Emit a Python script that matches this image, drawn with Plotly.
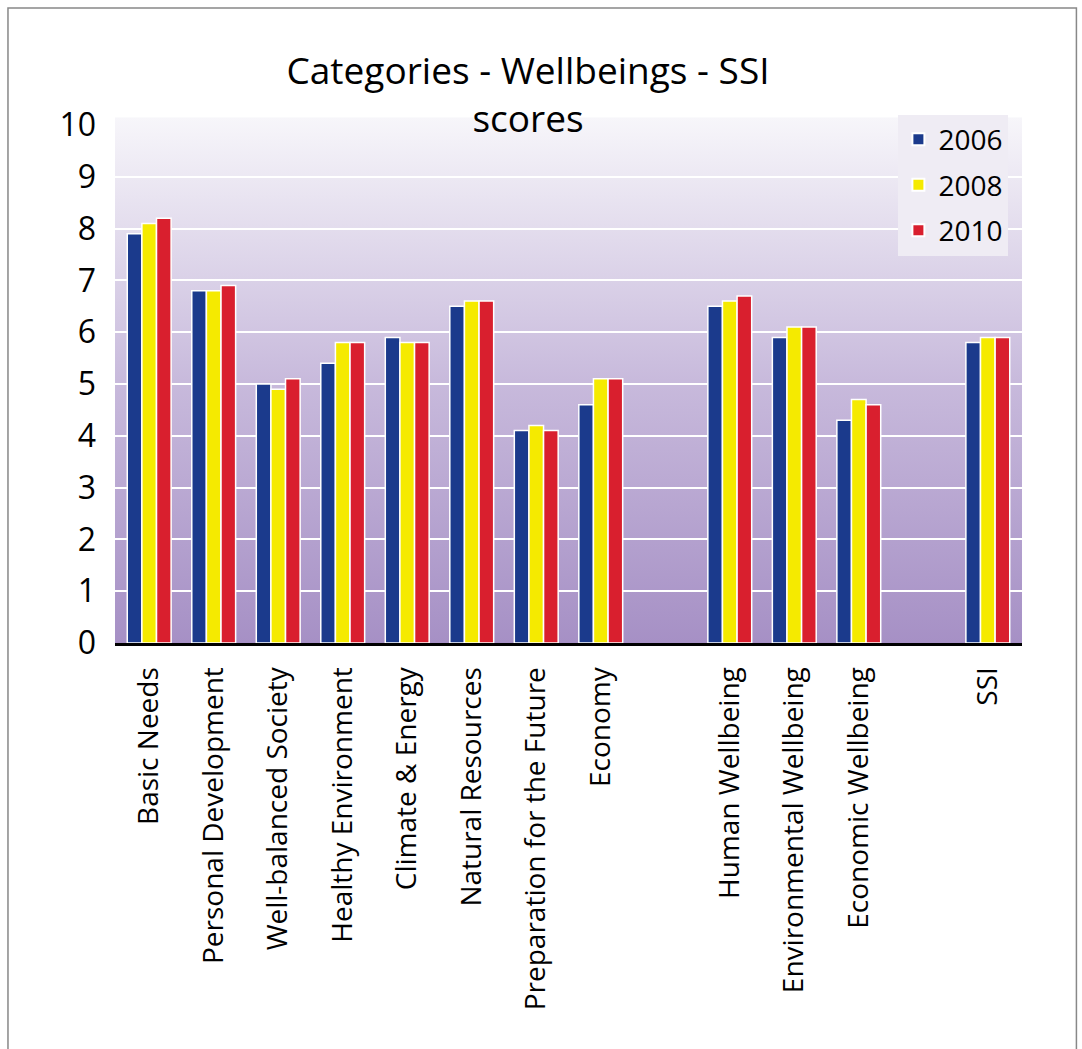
import base64
import plotly.graph_objects as go

categories = ["Basic Needs", "Personal Development", "Well-balanced Society",
              "Healthy Environment", "Climate & Energy", "Natural Resources",
              "Preparation for the Future", "Economy",
              "Human Wellbeing", "Environmental Wellbeing", "Economic Wellbeing",
              "SSI"]
positions = [0, 1, 2, 3, 4, 5, 6, 7, 9, 10, 11, 13]
years = ["2006", "2008", "2010"]
v2006 = [7.9, 6.8, 5.0, 5.4, 5.9, 6.5, 4.1, 4.6, 6.5, 5.9, 4.3, 5.8]
v2008 = [8.1, 6.8, 4.9, 5.8, 5.8, 6.6, 4.2, 5.1, 6.6, 6.1, 4.7, 5.9]
v2010 = [8.2, 6.9, 5.1, 5.8, 5.8, 6.6, 4.1, 5.1, 6.7, 6.1, 4.6, 5.9]
colors = ["#1b3a8c", "#f5ea00", "#d91f2e"]
y_ticks = list(range(0, 11))

fig = go.Figure()
for name, vals, col in zip(years, [v2006, v2008, v2010], colors):
    fig.add_trace(go.Bar(x=positions, y=vals, name=name, legendgroup=name,
                         marker=dict(color=col, line=dict(color="white", width=1.5))))

svg = ('<svg xmlns="http://www.w3.org/2000/svg" width="100" height="100" preserveAspectRatio="none">'
       '<defs><linearGradient id="g" x1="0" y1="0" x2="0" y2="1">'
       '<stop offset="0" stop-color="#f7f6fa"/><stop offset="0.5" stop-color="#c8badc"/>'
       '<stop offset="1" stop-color="#a690c5"/></linearGradient></defs>'
       '<rect width="100" height="100" fill="url(#g)"/></svg>')
src = "data:image/svg+xml;base64," + base64.b64encode(svg.encode()).decode()

fig.update_layout(
    width=1082, height=1049,
    margin=dict(l=115, r=60, t=125, b=406),
    paper_bgcolor="white",
    plot_bgcolor="rgba(0,0,0,0)",
    barmode="group", bargap=0.32, bargroupgap=0.0,
    font=dict(family="Open Sans, Lato, sans-serif", color="black"),
    title=dict(text="Categories - Wellbeings - SSI<br>scores", x=0.488, xanchor="center",
               y=0.92, yanchor="top", font=dict(size=37, color="black")),
    legend=dict(x=0.985, xanchor="right", y=1.02, yanchor="top",
                bgcolor="#efecf4", font=dict(size=28), itemsizing="constant",
                tracegroupgap=6, itemwidth=30),
    showlegend=True,
    images=[dict(source=src, xref="paper", yref="paper", x=0, y=1.015, sizex=1, sizey=1.015,
                 xanchor="left", yanchor="top", sizing="stretch", layer="below")],
    shapes=[dict(type="rect", xref="paper", yref="paper", x0=-0.118, x1=1.06, y0=-1.0, y1=1.226,
                 line=dict(color="#888888", width=1.5), fillcolor="rgba(0,0,0,0)", layer="below")],
)
fig.update_xaxes(range=[-0.53, 13.53], tickmode="array", tickvals=positions, ticktext=categories,
                 tickangle=-90, tickfont=dict(size=28), showgrid=False, zeroline=False,
                 showline=True, linecolor="black", linewidth=3, ticks="", ticklabelstandoff=10)
fig.update_yaxes(range=[0, 10], tickvals=y_ticks, tickfont=dict(size=32), showgrid=True,
                 gridcolor="white", gridwidth=1.5, zeroline=False, showline=False, ticks="",
                 ticklabelstandoff=18)

fig.write_html("out.html")
